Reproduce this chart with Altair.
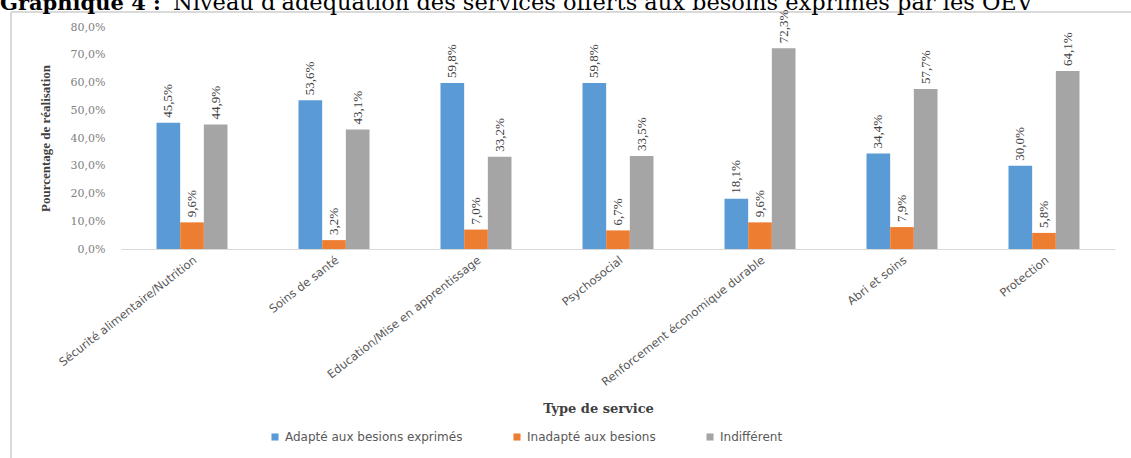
import altair as alt
import pandas as pd

categories = [
    "Sécurité alimentaire/Nutrition",
    "Soins de santé",
    "Education/Mise en apprentissage",
    "Psychosocial",
    "Renforcement économique durable",
    "Abri et soins",
    "Protection",
]
series = ["Adapté aux besions exprimés", "Inadapté aux besions", "Indifférent"]
adapte = [45.5, 53.6, 59.8, 59.8, 18.1, 34.4, 30.0]
inadapte = [9.6, 3.2, 7.0, 6.7, 9.6, 7.9, 5.8]
indifferent = [44.9, 43.1, 33.2, 33.5, 72.3, 57.7, 64.1]
colors = ["#5B9BD5", "#ED7D31", "#A5A5A5"]

title_bold = "Graphique 4 :"
title_rest = "Niveau d'adéquation des services offerts aux besoins exprimés par les OEV"

rows = []
for vals, s in zip([adapte, inadapte, indifferent], series):
    for c, v in zip(categories, vals):
        rows.append({"cat": c, "serie": s, "val": v,
                     "lab": f"{v:.1f}".replace(".", ",") + "%"})
df = pd.DataFrame(rows)

x = alt.X("cat:N", sort=categories,
          scale=alt.Scale(paddingInner=0.5, paddingOuter=0.25),
          axis=alt.Axis(title="Type de service", labelAngle=-38,
                        labelFont="DejaVu Sans", labelFontSize=11.5,
                        labelColor="#595959", labelPadding=5, labelLimit=0,
                        domainColor="#D9D9D9", ticks=False,
                        titleFont="DejaVu Serif", titleFontSize=13,
                        titleFontWeight="bold", titleColor="#404040",
                        titleX=477, titleY=159, titleBaseline="middle"))
y = alt.Y("val:Q", scale=alt.Scale(domain=[0, 80]),
          axis=alt.Axis(title="Pourcentage de réalisation",
                        values=[0, 10, 20, 30, 40, 50, 60, 70, 80],
                        labelExpr="replace(format(datum.value, '.1f'), '.', ',') + '%'",
                        labelFont="DejaVu Serif", labelFontSize=11,
                        labelColor="#808080", labelPadding=16,
                        domain=False, ticks=False, grid=False,
                        titleFont="Liberation Serif", titleFontSize=13,
                        titleFontWeight="bold", titleColor="#404040",
                        titleX=-76, titleY=111, titleAngle=-90,
                        titleAlign="center", titleBaseline="middle"))
xo = alt.XOffset("serie:N", sort=series, scale=alt.Scale(paddingInner=0))

bars = alt.Chart(df).mark_bar().encode(
    x=x, y=y, xOffset=xo,
    color=alt.Color("serie:N", sort=series,
                    scale=alt.Scale(domain=series, range=colors),
                    legend=alt.Legend(title=None, orient="none", direction="horizontal",
                                      legendX=148, legendY=404, symbolType="square",
                                      symbolSize=50, symbolStrokeWidth=0,
                                      labelFont="DejaVu Sans", labelFontSize=12,
                                      labelLimit=0, labelColor="#595959",
                                      columnPadding=48)),
)
labels = alt.Chart(df).mark_text(angle=270, align="left", baseline="middle", dx=5,
                                 font="Liberation Serif", fontSize=13,
                                 color="#404040").encode(
    x=x, y=y, xOffset=xo, text="lab:N")

frame_top = alt.Chart(df).mark_rule(color="#D9D9D9", strokeWidth=1).encode(
    x=alt.value(-110), x2=alt.value(1010), y=alt.value(-15))
frame_left = alt.Chart(df).mark_rule(color="#D9D9D9", strokeWidth=1.5).encode(
    x=alt.value(-110), y=alt.value(-15), y2=alt.value(431))

tdf = pd.DataFrame({"a": [title_bold], "b": [title_rest]})
t1 = alt.Chart(tdf).mark_text(align="left", baseline="alphabetic", font="DejaVu Serif",
                              fontSize=21, fontWeight="bold", color="#000000").encode(
    x=alt.value(-121), y=alt.value(-17), text="a:N")
t2 = alt.Chart(tdf).mark_text(align="left", baseline="alphabetic", font="DejaVu Serif",
                              fontSize=22.5, color="#000000").encode(
    x=alt.value(52), y=alt.value(-17), text="b:N")

chart = alt.layer(frame_top, frame_left, bars, labels, t1, t2).properties(
    width=994, height=222,
    autosize=alt.AutoSizeParams(type="none"),
    padding={"left": 121, "top": 27, "right": 16, "bottom": 209},
).configure_view(stroke=None)

chart.save("out.html", embed_options={"renderer": "svg", "actions": False})
